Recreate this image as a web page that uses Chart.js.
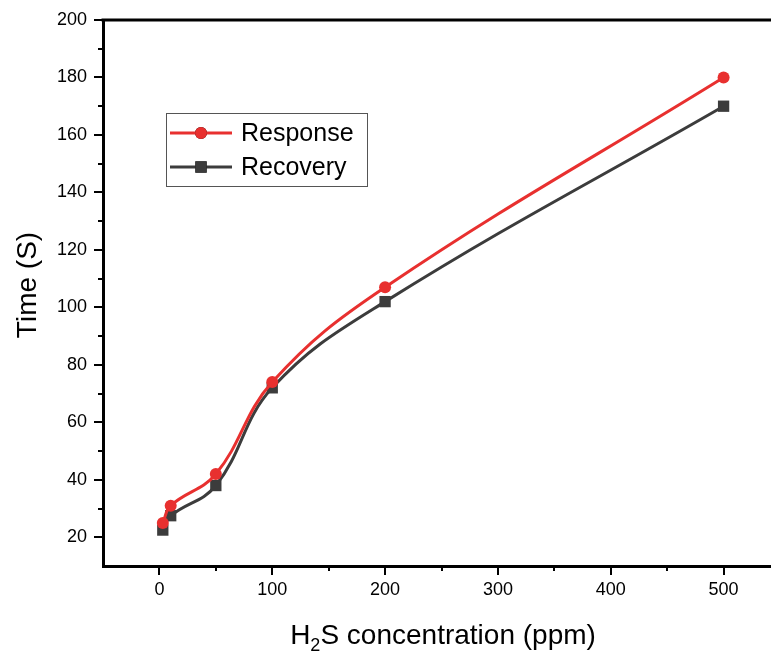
<!DOCTYPE html>
<html>
<head>
<meta charset="utf-8">
<script src="https://cdn.jsdelivr.net/npm/chart.js@4/dist/chart.umd.min.js"></script>
<style>
  html, body { margin: 0; padding: 0; background: #fff; overflow: hidden; }
  #wrap { width: 788px; height: 657px; }
</style>
</head>
<body>
<div id="wrap"><canvas id="myChart" width="788" height="657"></canvas></div>
<script>
// data
const concentration = [3, 10, 50, 100, 200, 500];
const response_time = [25, 31, 42, 74, 107, 180];
const recovery_time = [22.5, 27.5, 38, 72, 102, 170];

// tick values
const x_major = [0, 100, 200, 300, 400, 500];
const x_minor = [50, 150, 250, 350, 450];
const y_major = [20, 40, 60, 80, 100, 120, 140, 160, 180, 200];
const y_minor = [30, 50, 70, 90, 110, 130, 150, 170, 190];

const FONT = "Arial, 'Liberation Sans', sans-serif";
const RED = '#e8302f';
const GRAY = '#3c3c3c';

function pts(xs, ys){
    return xs.map((x, i) => ({x: x, y: ys[i]}));
}

// axis frame, tick marks, titles and legend drawn on top of the chart
const framePlugin = {
    id: 'frame',
    afterDraw(chart){
        const ctx = chart.ctx;
        const a = chart.chartArea;
        const xs = chart.scales.x, ys = chart.scales.y;
        ctx.save();
        ctx.strokeStyle = '#000';
        ctx.lineCap = 'butt';

        // top border
        ctx.lineWidth = 3;
        ctx.beginPath();
        ctx.moveTo(a.left - 1.5, a.top);
        ctx.lineTo(chart.width, a.top);
        ctx.stroke();

        // tick marks
        ctx.lineWidth = 2;
        ctx.beginPath();
        x_major.forEach(v => { const p = Math.round(xs.getPixelForValue(v)); ctx.moveTo(p, a.bottom); ctx.lineTo(p, a.bottom + 9); });
        x_minor.forEach(v => { const p = Math.round(xs.getPixelForValue(v)); ctx.moveTo(p, a.bottom); ctx.lineTo(p, a.bottom + 5); });
        y_major.forEach(v => { const p = Math.round(ys.getPixelForValue(v)); ctx.moveTo(a.left, p); ctx.lineTo(a.left - 9, p); });
        y_minor.forEach(v => { const p = Math.round(ys.getPixelForValue(v)); ctx.moveTo(a.left, p); ctx.lineTo(a.left - 5, p); });
        ctx.stroke();

        // y title
        ctx.fillStyle = '#000';
        ctx.font = '28px ' + FONT;
        ctx.textAlign = 'center';
        ctx.textBaseline = 'alphabetic';
        ctx.save();
        ctx.translate(36, 285);
        ctx.rotate(-Math.PI / 2);
        ctx.fillText('Time (S)', 0, 0);
        ctx.restore();

        // x title with subscript
        const parts = [['H', 28, 0], ['2', 18, 7], ['S concentration (ppm)', 28, 0]];
        let total = 0;
        parts.forEach(p => { ctx.font = p[1] + 'px ' + FONT; total += ctx.measureText(p[0]).width; });
        let cx = 443 - total / 2;
        ctx.textAlign = 'left';
        parts.forEach(p => {
            ctx.font = p[1] + 'px ' + FONT;
            ctx.fillText(p[0], cx, 644 + p[2]);
            cx += ctx.measureText(p[0]).width;
        });

        // legend box
        ctx.lineWidth = 1;
        ctx.strokeStyle = '#555';
        ctx.strokeRect(166.5, 113.5, 201, 73);
        const rows = [133, 167];
        chart.data.datasets.forEach((ds, i) => {
            const y = rows[i];
            ctx.strokeStyle = ds.borderColor;
            ctx.lineWidth = 3;
            ctx.beginPath();
            ctx.moveTo(170, y);
            ctx.lineTo(232, y);
            ctx.stroke();
            Chart.helpers.drawPoint(ctx, {pointStyle: ds.pointStyle, radius: ds.pointRadius, borderWidth: 0}, 201, y);
            ctx.fillStyle = ds.backgroundColor;
            ctx.fill();
            ctx.fillStyle = '#000';
            ctx.font = '25px ' + FONT;
            ctx.textAlign = 'left';
            ctx.textBaseline = 'middle';
            ctx.fillText(ds.label, 241, y + 1);
        });
        ctx.restore();
    }
};

const ctx = document.getElementById('myChart');
const myChart = new Chart(ctx, {
    type: 'line',
    data: {
        datasets: [{
            label: 'Response',
            data: pts(concentration, response_time),
            borderColor: RED,
            backgroundColor: RED,
            borderWidth: 3,
            pointStyle: 'circle',
            pointRadius: 6,
            pointBorderWidth: 0,
            tension: 0.4
        }, {
            label: 'Recovery',
            data: pts(concentration, recovery_time),
            borderColor: GRAY,
            backgroundColor: GRAY,
            borderWidth: 3,
            pointStyle: 'rect',
            pointRadius: 8,
            pointBorderWidth: 0,
            tension: 0.4
        }]
    },
    options: {
        responsive: false,
        animation: false,
        devicePixelRatio: 1,
        layout: { padding: { top: 20, right: 2, left: 0, bottom: 0 } },
        plugins: {
            legend: { display: false },
            tooltip: { enabled: false }
        },
        scales: {
            x: {
                type: 'linear',
                min: -50,
                max: 550,
                afterBuildTicks: (s) => { s.ticks = x_major.map(v => ({value: v})); },
                afterFit: (s) => { s.height = 91; s.paddingLeft = 0; s.paddingRight = 0; },
                grid: { display: false, drawTicks: false },
                border: { display: true, color: '#000', width: 3 },
                ticks: { color: '#000', font: { size: 18, family: FONT }, padding: 13, maxRotation: 0 }
            },
            y: {
                type: 'linear',
                min: 10,
                max: 200,
                afterBuildTicks: (s) => { s.ticks = y_major.map(v => ({value: v})); },
                afterFit: (s) => { s.width = 103; s.paddingTop = 0; s.paddingBottom = 0; },
                grid: { display: false, drawTicks: false },
                border: { display: true, color: '#000', width: 3 },
                ticks: { color: '#000', font: { size: 18, family: FONT }, padding: 16 }
            }
        }
    },
    plugins: [framePlugin]
});
</script>
</body>
</html>
